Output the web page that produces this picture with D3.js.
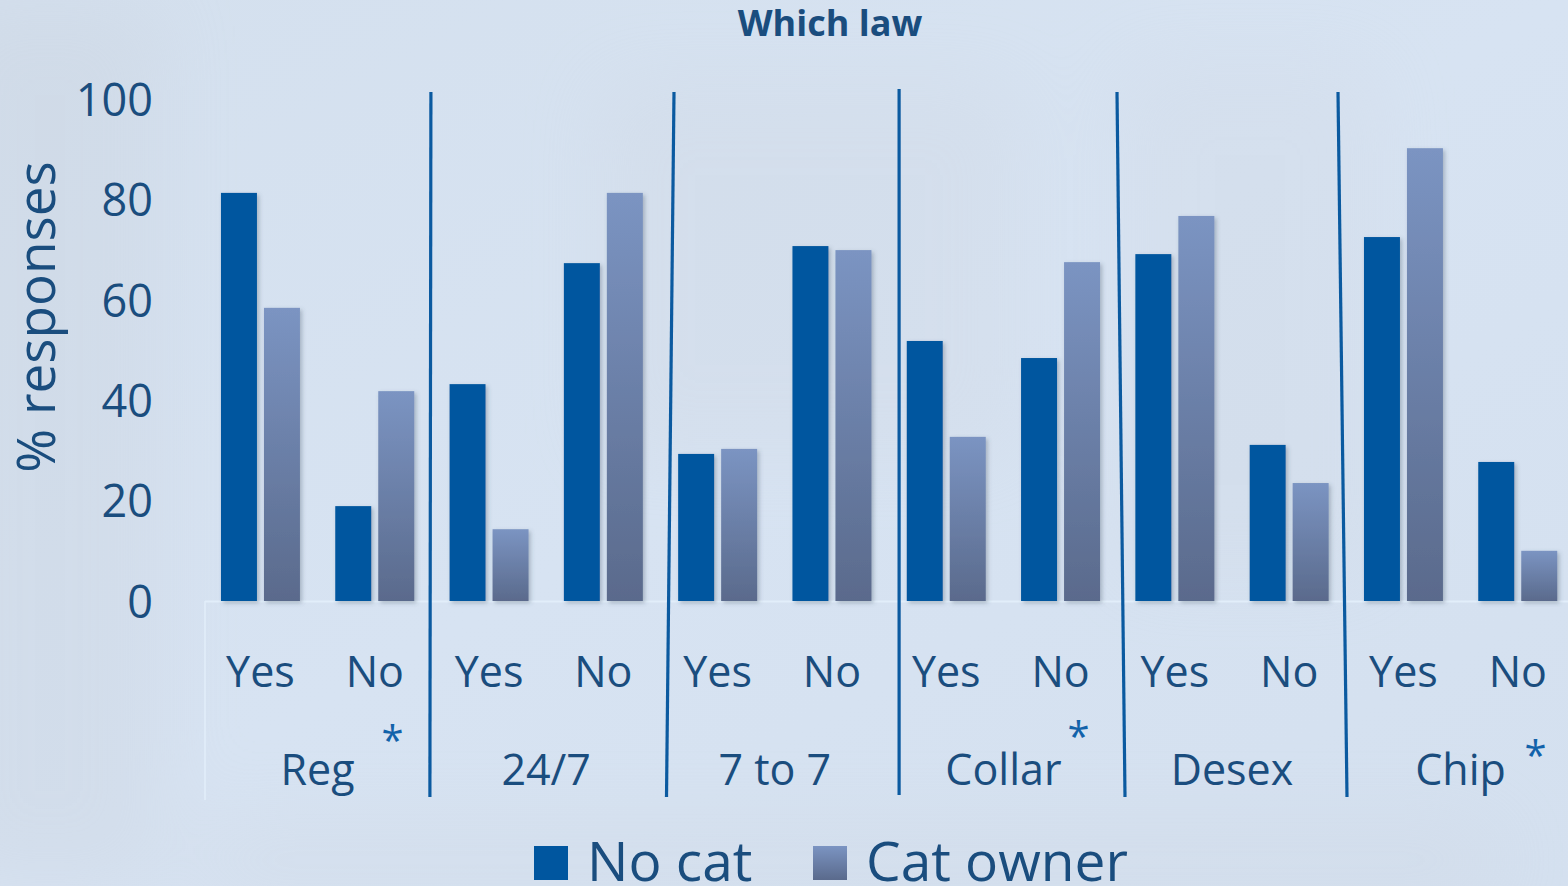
<!DOCTYPE html>
<html>
<head>
<meta charset="utf-8">
<script src="https://cdn.jsdelivr.net/npm/d3@7"></script>
<style>
  html, body { margin: 0; padding: 0; background: #d6e3f2; }
  svg { display: block; }
  text { font-family: "Open Sans", "Noto Sans", sans-serif; }
</style>
</head>
<body>
<div id="chart"></div>
<script>
// ---- data ----
const laws = ["Reg", "24/7", "7 to 7", "Collar", "Desex", "Chip"];
const answers = ["Yes", "No"];
const seriesNames = ["No cat", "Cat owner"];
const noCat    = [81.3, 18.9, 43.2, 67.3, 29.3, 70.7, 51.8, 48.4, 69.1, 31.1, 72.5, 27.7];
const catOwner = [58.4, 41.8, 14.3, 81.3, 30.3, 69.9, 32.7, 67.5, 76.7, 23.5, 90.2, 10.0];
const yTicks = [0, 20, 40, 60, 80, 100];
const significant = ["Reg", "Collar", "Chip"];
const titleText = "Which law";
const yTitle = "% responses";

// ---- layout ----
const W = 1568, H = 886;
const svg = d3.select("#chart").append("svg").attr("width", W).attr("height", H);
const defs = svg.append("defs");

// background
const bg = defs.append("linearGradient").attr("id", "bg").attr("x1", 0).attr("y1", 0).attr("x2", 1).attr("y2", 1);
bg.append("stop").attr("offset", "0%").attr("stop-color", "#d4e0ee");
bg.append("stop").attr("offset", "50%").attr("stop-color", "#d7e3f2");
bg.append("stop").attr("offset", "100%").attr("stop-color", "#d4e0ef");
svg.append("rect").attr("width", W).attr("height", H).attr("fill", "url(#bg)");
// faint photo-like blotches, heavily blurred
const blur = defs.append("filter").attr("id", "blur").attr("x", "-50%").attr("y", "-50%").attr("width", "200%").attr("height", "200%");
blur.append("feGaussianBlur").attr("stdDeviation", 40);
const ghost = svg.append("g").attr("opacity", 0.22).attr("filter", "url(#blur)");
ghost.append("rect").attr("x", -60).attr("y", 0).attr("width", 220).attr("height", 886).attr("fill", "#c3c9d3");
ghost.append("rect").attr("x", 600).attr("y", 80).attr("width", 420).attr("height", 380).attr("fill", "#ccd2dc");
ghost.append("rect").attr("x", 1120).attr("y", 60).attr("width", 260).attr("height", 520).attr("fill", "#cdd4df");
ghost.append("rect").attr("x", 200).attr("y", 820).attr("width", 1300).attr("height", 80).attr("fill", "#cbd1db");

const grad = defs.append("linearGradient").attr("id", "catGrad")
  .attr("x1", 0).attr("y1", 0).attr("x2", 0).attr("y2", 1);
grad.append("stop").attr("offset", "0%").attr("stop-color", "#7b94c2");
grad.append("stop").attr("offset", "100%").attr("stop-color", "#5a6a8c");

const shadow = defs.append("filter").attr("id", "shadow").attr("x", "-20%").attr("y", "-5%").attr("width", "140%").attr("height", "115%");
shadow.append("feDropShadow").attr("dx", 2).attr("dy", 2).attr("stdDeviation", 2)
  .attr("flood-color", "#445566").attr("flood-opacity", 0.35);

const textColor = "#1a4d7e";
const colorNoCat = "#00569f";

// scales
const cats = [];
laws.forEach(l => answers.forEach(a => cats.push(l + "|" + a)));
const x = d3.scaleBand().domain(cats).range([203.3, 1574.9]).paddingInner(0.309).paddingOuter(0.1545);
const xs = d3.scaleBand().domain(seriesNames).range([0, x.bandwidth()]).paddingInner(0.163);
const y = d3.scaleLinear().domain([0, 100]).range([601, 99]);
const xg = d3.scaleBand().domain(laws).range([203.3, 1574.9]);

// title
svg.append("text").attr("x", 830).attr("y", 36).attr("text-anchor", "middle")
  .attr("font-size", 36).attr("font-weight", "bold").attr("fill", textColor).text(titleText);

// y axis labels
const yAxis = d3.axisLeft(y).tickValues(yTicks).tickSize(0).tickPadding(0);
const yg = svg.append("g").attr("transform", "translate(153,0)").call(yAxis);
yg.select(".domain").remove();
yg.selectAll("text").attr("font-size", 45).attr("fill", textColor)
  .attr("font-family", "'Open Sans', sans-serif").attr("dy", "0.36em").attr("x", 0);

// y title
svg.append("text").attr("transform", "translate(55,317) rotate(-90)").attr("text-anchor", "middle")
  .attr("font-size", 53).attr("fill", textColor).text(yTitle);

// baseline & category frame (faint)
svg.append("line").attr("x1", 205).attr("x2", W).attr("y1", 601.5).attr("y2", 601.5)
  .attr("stroke", "#e2eefa").attr("stroke-width", 2);
svg.append("line").attr("x1", 205).attr("x2", 205).attr("y1", 601).attr("y2", 800)
  .attr("stroke", "#e2eefa").attr("stroke-width", 1.5);

// bars
const rows = cats.map((c, i) => ({ key: c, vals: [noCat[i], catOwner[i]] }));
const groups = svg.append("g").selectAll("g").data(rows).join("g")
  .attr("transform", d => `translate(${x(d.key)},0)`);
groups.selectAll("rect").data(d => d.vals.map((v, j) => ({ s: seriesNames[j], v })))
  .join("rect")
  .attr("x", d => xs(d.s)).attr("width", xs.bandwidth())
  .attr("y", d => y(d.v)).attr("height", d => y(0) - y(d.v))
  .attr("fill", d => d.s === "No cat" ? colorNoCat : "url(#catGrad)")
  .attr("filter", "url(#shadow)");

// answer labels
svg.append("g").selectAll("text").data(cats).join("text")
  .attr("x", d => x(d) + x.bandwidth() / 2).attr("y", 687)
  .attr("text-anchor", "middle").attr("font-size", 43).attr("fill", textColor)
  .text(d => d.split("|")[1]);

// group labels
svg.append("g").selectAll("text").data(laws).join("text")
  .attr("x", d => xg(d) + xg.bandwidth() / 2).attr("y", 785)
  .attr("text-anchor", "middle").attr("font-size", 43).attr("fill", textColor)
  .text(d => d);

// significance asterisks
const astDy = { "Reg": 755, "Collar": 751, "Chip": 770 };
svg.append("g").selectAll("text").data(significant).join("text")
  .attr("x", d => xg(d) + xg.bandwidth() / 2 + 75).attr("y", d => astDy[d])
  .attr("text-anchor", "middle").attr("font-size", 40).attr("fill", "#1262aa")
  .text("*");

// divider lines (hand-drawn, slightly slanted)
const boundaries = laws.slice(1).map(l => xg(l));
const topDx = [-1, 13.5, 10, -0.7, -8.3];
const botDx = [-2, 6, 10, 7.3, 0.7];
const topY = [92, 92, 89, 92, 92];
const botY = [797, 797, 795, 797, 797];
svg.append("g").selectAll("line").data(boundaries).join("line")
  .attr("x1", (d, i) => d + topDx[i]).attr("x2", (d, i) => d + botDx[i])
  .attr("y1", (d, i) => topY[i]).attr("y2", (d, i) => botY[i])
  .attr("stroke", "#0b5aa0").attr("stroke-width", 3.2);

// legend
const legend = svg.append("g");
const legItems = [
  { name: "No cat", x: 534, fill: colorNoCat },
  { name: "Cat owner", x: 813, fill: "url(#catGrad)" }
];
const li = legend.selectAll("g").data(legItems).join("g").attr("transform", d => `translate(${d.x},0)`);
li.append("rect").attr("x", 0).attr("y", 846).attr("width", 34).attr("height", 34).attr("fill", d => d.fill);
li.append("text").attr("x", 53).attr("y", 881).attr("font-size", 55).attr("fill", textColor).text(d => d.name);
</script>
</body>
</html>
